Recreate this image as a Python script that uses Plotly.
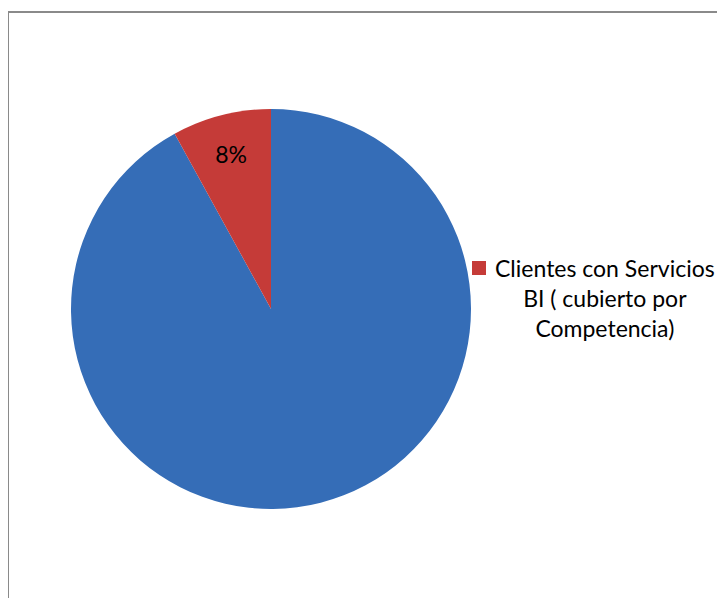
import plotly.graph_objects as go

labels = ["Clientes sin Servicios BI", "Clientes con Servicios BI ( cubierto por Competencia)"]
values = [92, 8]
slice_text = ["", "8%"]
colors = ["#356DB7", "#C53B38"]
legend_label = "Clientes con Servicios<br>BI ( cubierto por<br>Competencia)"

W, H = 725, 598
OFF = 8  # page body margin offset


def px(x):
    return (x - OFF) / W


def py(y):
    return 1 - (y - OFF) / H


fig = go.Figure()
fig.add_trace(go.Pie(
    labels=labels, values=values, text=slice_text,
    textinfo="text", textposition="inside", insidetextorientation="horizontal",
    sort=False, direction="clockwise", rotation=0,
    marker=dict(colors=colors, line=dict(width=0)),
    textfont=dict(family="Lato", size=23, color="#000000"),
    domain=dict(x=[px(71), px(471)], y=[py(509), py(109)]),
    showlegend=False, hoverinfo="label+percent",
))

# legend (single entry, centered text)
fig.add_shape(type="rect", xref="paper", yref="paper",
              x0=px(472), x1=px(486), y0=py(275), y1=py(261),
              fillcolor="#C53B38", line=dict(width=0))
fig.add_annotation(xref="paper", yref="paper", x=px(605), y=py(298),
                   text=legend_label, showarrow=False, align="center",
                   xanchor="center", yanchor="middle",
                   font=dict(family="Lato", size=23, color="#000000"))

# chart frame (only top and left edges visible)
fig.add_shape(type="line", xref="paper", yref="paper", x0=px(8), x1=1, y0=py(12), y1=py(12),
              line=dict(color="#8a8a8a", width=2))
fig.add_shape(type="line", xref="paper", yref="paper", x0=px(8), x1=px(8), y0=0, y1=py(12),
              line=dict(color="#8a8a8a", width=2))

fig.update_layout(width=W, height=H, margin=dict(l=0, r=0, t=0, b=0),
                  paper_bgcolor="white", plot_bgcolor="white")
fig.write_html("out.html")
